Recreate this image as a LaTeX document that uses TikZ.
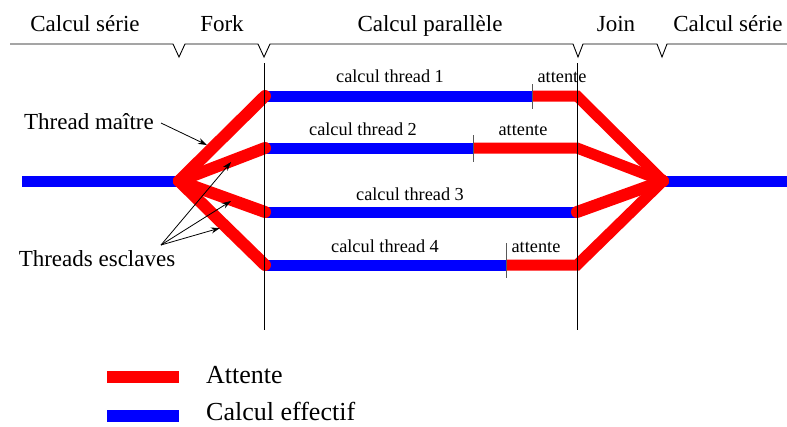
\documentclass[tikz,border=0pt]{standalone}
\usepackage{fontspec}
\setmainfont{Liberation Serif}
\usetikzlibrary{arrows.meta}
\definecolor{pred}{RGB}{255,0,0}
\definecolor{pblue}{RGB}{0,0,255}
\begin{document}
\begin{tikzpicture}[x=1pt,y=-1pt,
  calcline/.style={pblue,line width=11pt},
  waitline/.style={pred,line width=12pt},
  waitround/.style={pred,line width=12pt,line cap=round},
  phase/.style={anchor=base,font=\fontsize{23}{26}\selectfont,inner sep=0pt},
  tlabel/.style={anchor=base,font=\fontsize{18.3}{21}\selectfont,inner sep=0pt},
  legtext/.style={anchor=base west,font=\fontsize{26}{30}\selectfont,inner sep=0pt},
  side/.style={anchor=base,font=\fontsize{23}{26}\selectfont,inner sep=0pt},
  sepline/.style={black,line width=0.9pt},
  tick/.style={black!65,line width=1pt},
  pointer/.style={black,line width=0.8pt,-{Stealth[length=9pt,width=6pt]}}
]
\useasboundingbox (0,0) rectangle (787,426);

% phase labels
\node[phase] (ls) at (85,31) {Calcul série};
\node[phase] (fk) at (222,31) {Fork};
\node[phase] (pp) at (430,31) {Calcul parallèle};
\node[phase] (jn) at (616,31) {Join};
\node[phase] (rs) at (728,31) {Calcul série};

% brace line
\draw[sepline] (10,44) -- (173,44) -- (179,57) -- (185,44) -- (258,44) -- (264,57) -- (270,44)
  -- (573,44) -- (578,57) -- (583,44) -- (657,44) -- (662,57) -- (667,44) -- (787,44);

% key points
\coordinate (fork) at (179,181);
\coordinate (join) at (663,181);
\coordinate (s1) at (265,96);  \coordinate (e1) at (577,96);  \coordinate (w1) at (532,96);
\coordinate (s2) at (265,148); \coordinate (e2) at (577,148); \coordinate (w2) at (473,148);
\coordinate (s3) at (265,212); \coordinate (e3) at (577,212);
\coordinate (s4) at (265,265); \coordinate (e4) at (577,265); \coordinate (w4) at (506,265);
\coordinate (lin) at (22,181);
\coordinate (rout) at (787,181);

% blue computation lines
\draw[calcline] (lin) -- (fork);
\draw[calcline] (join) -- (rout);
\draw[calcline] (s1) -- (w1);
\draw[calcline] (s2) -- (w2);
\draw[calcline] (s3) -- (e3);
\draw[calcline] (s4) -- (w4);

% red waiting segments
\draw[waitline,line width=11pt,line cap=butt] (w1) -- (e1) -- (join);
\draw[waitline,line width=11pt,line cap=butt] (w2) -- (e2) -- (join);
\draw[waitline,line width=11pt,line cap=butt] (w4) -- (e4) -- (join);
\draw[waitround] (e3) -- (join);
\fill[pred] (join) circle (6);

% fork diagonals
\draw[waitround] (fork) -- (s1);
\draw[waitround] (fork) -- (s2);
\draw[waitround] (fork) -- (s3);
\draw[waitround] (fork) -- (s4);

% vertical separators
\coordinate (v1t) at (264.5,63); \coordinate (v1b) at (264.5,330);
\coordinate (v2t) at (577,63);   \coordinate (v2b) at (577,330);
\draw[sepline] (v1t) -- (v1b);
\draw[sepline] (v2t) -- (v2b);

% ticks
\draw[tick] (532,84) -- (532,109);
\draw[tick] (473,135) -- (473,162);
\draw[tick] (506,243) -- (506,278);

% thread labels
\node[tlabel] (c1) at (390,82) {calcul thread 1};
\node[tlabel] (a1) at (562,82) {attente};
\node[tlabel] (c2) at (363,135) {calcul thread 2};
\node[tlabel] (a2) at (523,135) {attente};
\node[tlabel] (c3) at (410,200) {calcul thread 3};
\node[tlabel] (c4) at (385,252) {calcul thread 4};
\node[tlabel] (a4) at (536,252) {attente};

% side labels with pointers
\node[side] (tm) at (89,129) {Thread maître};
\node[side] (te) at (97,266) {Threads esclaves};
\coordinate (tmA) at (161,123);
\coordinate (tmB) at (207,145);
\coordinate (teA) at (161,245);
\coordinate (teB1) at (231,162);
\coordinate (teB2) at (231,201);
\coordinate (teB3) at (220,228);
\draw[pointer] (tmA) -- (tmB);
\draw[pointer] (teA) -- (teB1);
\draw[pointer] (teA) -- (teB2);
\draw[pointer] (teA) -- (teB3);

% legend
\coordinate (lr1) at (107,377); \coordinate (lr2) at (179,377);
\coordinate (lb1) at (107,416); \coordinate (lb2) at (179,416);
\draw[waitline] (lr1) -- (lr2);
\draw[calcline,line width=12pt] (lb1) -- (lb2);
\node[legtext] (la) at (206,383) {Attente};
\node[legtext] (lc) at (206,420) {Calcul effectif};
\end{tikzpicture}
\end{document}
